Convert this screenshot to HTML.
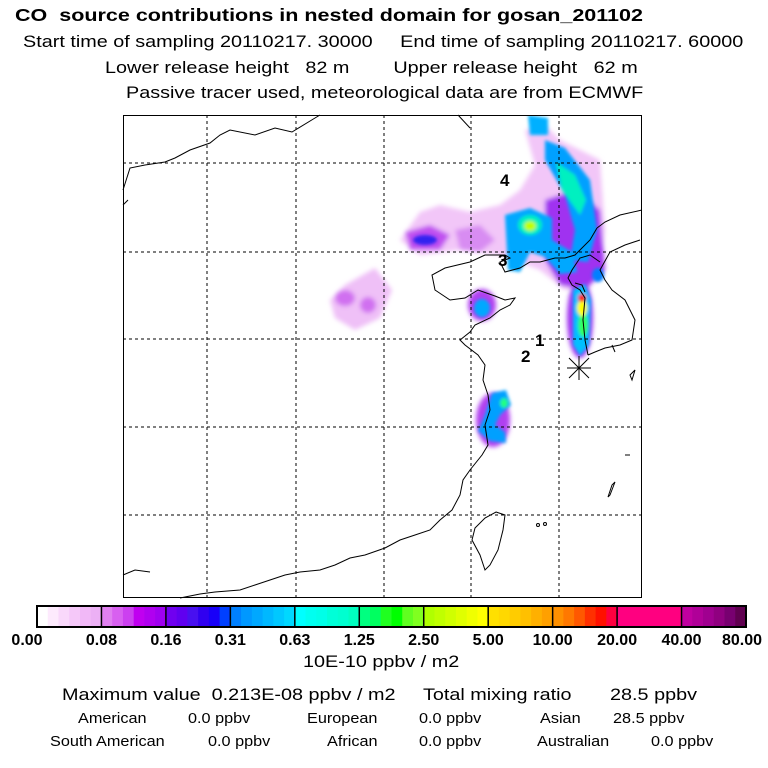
<!DOCTYPE html>
<html><head><meta charset="utf-8"><style>
body{margin:0;background:#fff;width:768px;height:768px;overflow:hidden;font-family:"Liberation Sans",sans-serif;}
.t{position:absolute;white-space:nowrap;color:#000;transform-origin:0 0;}
.s{transform:scaleX(1.2);}
.r{transform:scaleX(1.12);}
</style></head><body>
<div style="position:relative;width:768px;height:768px">
<div class="t" style="left:15px;top:5px;font-size:17.5px;font-weight:bold;transform:scaleX(1.23)">CO&nbsp; source contributions in nested domain for gosan_201102</div>
<div class="t s" style="left:23px;top:33px;font-size:16.5px">Start time of sampling 20110217. 30000 &nbsp;&nbsp;&nbsp; End time of sampling 20110217. 60000</div>
<div class="t s" style="left:105px;top:59px;font-size:16.5px">Lower release height &nbsp; 82 m &nbsp;&nbsp;&nbsp;&nbsp;&nbsp;&nbsp; Upper release height &nbsp; 62 m</div>
<div class="t s" style="left:126px;top:84px;font-size:16.5px">Passive tracer used, meteorological data are from ECMWF</div>

<svg style="position:absolute;left:0;top:0" width="768" height="768">
<defs>
<filter id="b4" x="-50%" y="-50%" width="200%" height="200%"><feGaussianBlur stdDeviation="2.5"/></filter>
<filter id="b2" x="-50%" y="-50%" width="200%" height="200%"><feGaussianBlur stdDeviation="1.5"/></filter>
<clipPath id="mc"><rect x="123" y="115" width="519" height="483"/></clipPath>
</defs>
<g clip-path="url(#mc)">
 <g filter="url(#b4)">
  <path d="M400,240 L420,212 L440,205 L470,212 L500,205 L520,190 L535,165 L525,130 L545,125 L560,140 L600,160 L605,230 L600,275 L585,285 L565,290 L540,270 L500,255 L460,250 L420,255 Z" fill="#f2c6f8"/>
  <path d="M330,300 L345,285 L375,268 L392,290 L380,318 L355,330 L335,318 Z" fill="#efc0f7"/>
  <path d="M405,232 L430,225 L450,235 L440,250 L410,250 Z" fill="#c050f0"/>
  <path d="M455,230 L480,225 L495,240 L480,252 L460,250 Z" fill="#d88cf2"/>
  <ellipse cx="345" cy="298" rx="10" ry="8" fill="#d070f0"/>
  <ellipse cx="368" cy="305" rx="8" ry="8" fill="#d070f0"/>
  <path d="M545,200 L575,190 L600,210 L605,270 L585,290 L560,285 L545,260 Z" fill="#a030f0"/>
  <ellipse cx="482" cy="305" rx="14" ry="16" fill="#b040f0"/>
  <ellipse cx="493" cy="420" rx="17" ry="27" fill="#b040f0"/>
  <ellipse cx="580" cy="318" rx="13" ry="40" fill="#a030f0"/>
 </g>
 <g filter="url(#b2)">
  <ellipse cx="425" cy="240" rx="12" ry="5" fill="#3020f0"/>
  <path d="M528,115 L548,118 L548,135 L530,135 Z" fill="#00b0ff"/>
  <path d="M545,140 L565,148 L590,180 L597,230 L588,262 L570,260 L575,230 L565,195 L545,160 Z" fill="#00a0ff"/>
  <path d="M556,162 L575,175 L586,200 L580,215 L562,190 Z" fill="#00f0c0"/>
  <path d="M505,215 L530,208 L552,218 L552,240 L572,252 L577,272 L560,274 L545,257 L530,252 L520,272 L508,270 Z" fill="#00a8ff"/>
  <ellipse cx="530" cy="225" rx="12" ry="10" fill="#00f0c0"/>
  <ellipse cx="530" cy="226" rx="6" ry="5" fill="#c0ff00"/>
  <ellipse cx="598" cy="275" rx="6" ry="7" fill="#0080ff"/>
  <ellipse cx="482" cy="308" rx="8" ry="9" fill="#00a8ff"/>
  <path d="M573,290 L585,284 L591,300 L589,345 L580,356 L573,345 Z" fill="#00c0ff"/>
  <ellipse cx="583" cy="325" rx="5" ry="12" fill="#30ff60"/>
  <ellipse cx="582" cy="308" rx="5" ry="8" fill="#ffff00"/>
  <ellipse cx="582" cy="298" rx="4" ry="4" fill="#ff2000"/>
  <path d="M492,393 L506,390 L511,405 L500,415 L495,425 L505,432 L506,443 L490,441 L478,431 L485,415 Z" fill="#00a0ff"/>
  <ellipse cx="504" cy="403" rx="4" ry="5" fill="#20ff80"/>
 </g>
</g>
<g fill="none" stroke="#000" stroke-width="1">
 <path d="M123,190 L130,168 L145,165 L165,162 L175,158 L190,150 L210,143 L220,135 L230,130 L255,135 L275,128 L292,132 L315,118 L320,115"/>
 <path d="M123,205 L128,200"/>
 <path d="M458,115 L470,128"/>
 <path d="M597,228 L605,222 L620,215 L642,210"/>
 <path d="M640,240 L625,245 L610,252 L600,270 L605,280 L612,290 L625,300 L635,320 L632,340 L620,345 L605,348 L595,352 L588,355"/>
 <path d="M600,262 L590,255 L580,258 L572,270 L568,278 L572,285 L580,290 L585,298 L583,320 L585,340 L588,355"/>
 <path d="M597,228 L590,240 L575,255 L565,258 L555,258 L540,262 L530,262 L520,268 L505,272 L500,262 L510,258 L505,255 L485,255 L470,262 L445,268 L432,275 L435,290 L450,300 L465,298 L478,290 L495,296 L505,300 L515,298 L510,305 L500,310 L490,318 L475,325 L470,332 L460,340 L465,345 L478,355 L485,365 L483,380 L488,395 L490,410 L485,425 L488,445 L482,455 L470,470 L463,480 L460,495 L452,510 L440,520 L430,530 L415,535 L400,540 L385,548 L365,555 L350,558 L335,565 L320,570 L300,572 L285,575 L270,580 L255,585 L240,590 L215,592 L200,594 L180,598"/>
 <path d="M123,575 L135,570 L150,572"/>
 <path d="M496,512 L505,515 L503,530 L498,550 L490,565 L485,570 L480,555 L472,540 L475,528 L485,518 Z"/>
 <path d="M630,375 L635,370 L632,380 Z"/>
 <path d="M612,345 L615,352"/>
 <path d="M625,455 L630,455"/>
 <path d="M608,497 L612,485 L615,482 L610,495 Z"/>
 <circle cx="538" cy="525" r="1.5"/><circle cx="545" cy="524" r="1.5"/>
 <path d="M575,283 L582,285 L585,292"/>
</g>
<g stroke="#000" stroke-width="1" stroke-dasharray="3,3">
 <line x1="207" y1="115" x2="207" y2="598"/><line x1="296" y1="115" x2="296" y2="598"/>
 <line x1="384" y1="115" x2="384" y2="598"/><line x1="471" y1="115" x2="471" y2="598"/>
 <line x1="559" y1="115" x2="559" y2="598"/>
 <line x1="123" y1="163" x2="642" y2="163"/><line x1="123" y1="252" x2="642" y2="252"/>
 <line x1="123" y1="339" x2="642" y2="339"/><line x1="123" y1="427" x2="642" y2="427"/>
 <line x1="123" y1="515" x2="642" y2="515"/>
</g>
<rect x="123.5" y="115.5" width="518" height="482" fill="none" stroke="#000"/>
<g font-family="Liberation Sans, sans-serif" font-weight="bold" font-size="17">
 <text x="500" y="186">4</text><text x="498" y="266">3</text><text x="535" y="346">1</text><text x="521" y="362">2</text>
</g>
<g stroke="#000" stroke-width="1">
 <line x1="569" y1="358" x2="589" y2="378"/><line x1="589" y1="358" x2="569" y2="378"/>
 <line x1="579" y1="356" x2="579" y2="380"/><line x1="567" y1="368" x2="591" y2="368"/>
</g>
<g id="cbar"></g>
<g id="cbl" font-family="Liberation Sans, sans-serif" font-weight="bold" font-size="16" text-anchor="middle"></g>
</svg>

<div class="t s" style="left:303px;top:653px;font-size:16.5px">10E-10 ppbv / m2</div>
<div class="t" style="left:62px;top:686px;font-size:16.5px;transform:scaleX(1.2)">Maximum value &nbsp;0.213E-08 ppbv / m2 &nbsp;&nbsp;&nbsp;&nbsp;Total mixing ratio &nbsp;&nbsp;&nbsp;&nbsp;&nbsp; 28.5 ppbv</div>
<div class="t r" style="left:78px;top:711px;font-size:14.5px">American</div>
<div class="t r" style="left:188px;top:711px;font-size:14.5px">0.0 ppbv</div>
<div class="t r" style="left:307px;top:711px;font-size:14.5px">European</div>
<div class="t r" style="left:419px;top:711px;font-size:14.5px">0.0 ppbv</div>
<div class="t r" style="left:540px;top:711px;font-size:14.5px">Asian</div>
<div class="t r" style="left:613px;top:711px;font-size:14.5px">28.5 ppbv</div>
<div class="t r" style="left:50px;top:734px;font-size:14.5px">South American</div>
<div class="t r" style="left:208px;top:734px;font-size:14.5px">0.0 ppbv</div>
<div class="t r" style="left:327px;top:734px;font-size:14.5px">African</div>
<div class="t r" style="left:419px;top:734px;font-size:14.5px">0.0 ppbv</div>
<div class="t r" style="left:537px;top:734px;font-size:14.5px">Australian</div>
<div class="t r" style="left:651px;top:734px;font-size:14.5px">0.0 ppbv</div>
</div>
<script>
const tickLabels=["0.00","0.08","0.16","0.31","0.63","1.25","2.50","5.00","10.00","20.00","40.00","80.00"];
const segColors=[
["#ffffff","#fdeafd","#f9d8fb","#f5c8f9","#f1b8f7","#ecb0f5"],
["#e080f0","#d860f0","#cc40f0","#c000f0","#b000f0","#a000f0"],
["#7000f0","#6000f0","#4810f0","#3000f0","#1800f8","#0040ff"],
["#0080ff","#0098ff","#00a8ff","#00b8ff","#00c8ff","#00d8ff"],
["#00ffff","#00fff0","#00ffe8","#00ffd8","#00ffd0","#00ffc0"],
["#00ff80","#00ff60","#20ff20","#00ff00","#60ff20","#80ff20"],
["#b0ff00","#c0ff00","#d0ff00","#e0ff00","#f0ff00","#ffff00"],
["#ffe000","#ffd800","#ffcc00","#ffc000","#ffb000","#ffa000"],
["#ff9000","#ff7800","#ff5800","#ff3000","#ff1000","#ff0040"],
["#ff0080","#ff0080","#ff0080","#ff0080","#ff0080","#ff0080"],
["#c000a0","#b00098","#a00090","#900080","#780070","#600050"]];
const ns="http://www.w3.org/2000/svg";
const x0=37,x1=746,y0=606,h=21,sw=(x1-x0)/segColors.length;
const g=document.getElementById('cbar'),gl=document.getElementById('cbl');
segColors.forEach((cols,i)=>{cols.forEach((c,j)=>{const r=document.createElementNS(ns,'rect');


r.setAttribute('x',x0+i*sw+j*sw/cols.length);r.setAttribute('y',y0);r.setAttribute('width',sw/cols.length+0.5);r.setAttribute('height',h);r.setAttribute('fill',c);g.appendChild(r);});
const l=document.createElementNS(ns,'line');


l.setAttribute('x1',x0+i*sw);l.setAttribute('x2',x0+i*sw);l.setAttribute('y1',y0);l.setAttribute('y2',y0+h);l.setAttribute('stroke','#000');l.setAttribute('stroke-width','1.5');g.appendChild(l);});
const fr=document.createElementNS(ns,'rect');


fr.setAttribute('x',x0);fr.setAttribute('y',y0);fr.setAttribute('width',x1-x0);fr.setAttribute('height',h);fr.setAttribute('fill','none');fr.setAttribute('stroke','#000');fr.setAttribute('stroke-width','2');g.appendChild(fr);
tickLabels.forEach((t,i)=>{const tx=document.createElementNS(ns,'text');


let x=x0+i*sw;if(i===tickLabels.length-1)x-=4;if(i===0)x-=10;
tx.setAttribute('x',x);tx.setAttribute('y',645);tx.textContent=t;gl.appendChild(tx);});
</script>
</body></html>
